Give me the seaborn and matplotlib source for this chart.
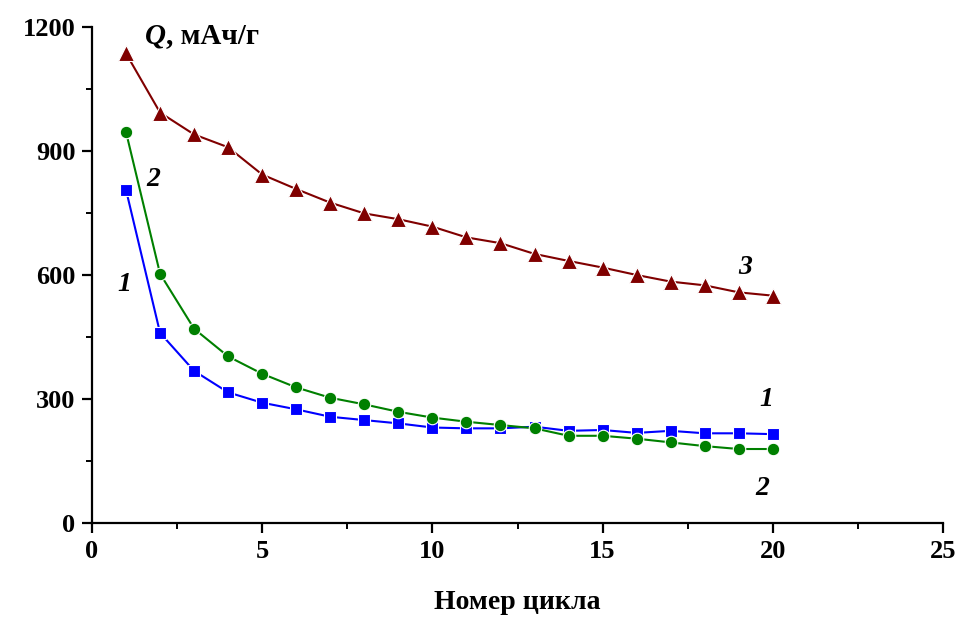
import matplotlib
matplotlib.use("Agg")
import matplotlib.pyplot as plt
import seaborn as sns
import pandas as pd
from matplotlib.ticker import MultipleLocator

cycles = list(range(1, 21))
series1 = [806, 460, 368, 316, 291, 275, 257, 249, 241, 231, 229, 229, 233, 223, 225, 218, 223, 217, 217, 215]
series2 = [946, 603, 470, 403, 361, 328, 303, 287, 269, 255, 245, 237, 229, 211, 211, 204, 195, 186, 179, 179]
series3 = [1136, 993, 940, 909, 843, 808, 775, 749, 735, 717, 691, 677, 651, 634, 618, 600, 584, 575, 558, 550]
names = ["1", "2", "3"]
x_ticks = [0, 5, 10, 15, 20, 25]
y_ticks = [0, 300, 600, 900, 1200]

sns.set_style("white")
plt.rcParams['font.family'] = ['Liberation Serif', 'DejaVu Serif']
plt.rcParams['text.color'] = 'black'
plt.rcParams['xtick.color'] = 'black'
plt.rcParams['ytick.color'] = 'black'
plt.rcParams['axes.labelcolor'] = 'black'

fig = plt.figure(figsize=(9.62, 6.25), dpi=100)
ax = fig.add_axes([0.0956, 0.1632, 0.8847, 0.7936])

colors = ["#0000FF", "#008000", "#800000"]
markers = ["s", "o", "^"]
msizes = [8.5, 9, 11]
for vals, c, m, ms in zip([series1, series2, series3], colors, markers, msizes):
    df = pd.DataFrame({"cycle": cycles, "Q": vals})
    sns.lineplot(data=df, x="cycle", y="Q", ax=ax, color=c, marker=m,
                 markersize=ms, markeredgecolor="white", markeredgewidth=0.8,
                 linewidth=1.5, clip_on=False)

ax.set_xlim(0, 25)
ax.set_ylim(0, 1200)
ax.set_xticks(x_ticks)
ax.set_yticks(y_ticks)
ax.xaxis.set_minor_locator(MultipleLocator(2.5))
ax.yaxis.set_minor_locator(MultipleLocator(150))
for s in ["top", "right"]:
    ax.spines[s].set_visible(False)
for s in ["left", "bottom"]:
    ax.spines[s].set_linewidth(1.6)
    ax.spines[s].set_color("black")
ax.tick_params(which="major", direction="out", length=7, width=1.6, labelsize=19, pad=5,
               bottom=True, left=True, colors="black")
ax.tick_params(which="minor", direction="out", length=4, width=1.4, bottom=True, left=True,
               colors="black")
for lab in ax.get_xticklabels() + ax.get_yticklabels():
    lab.set_fontweight("bold")

ax.set_xlabel("Номер цикла", fontsize=20, fontweight="bold", labelpad=20, color="black")
ax.set_ylabel("")

qt = ax.text(1.55, 1160, "Q", fontsize=21, fontweight="bold", style="italic",
             va="baseline", ha="left", color="black")
ax.annotate(", мАч/г", xy=(1, 0), xycoords=qt, va="bottom", ha="left",
            fontsize=21, fontweight="bold", color="black")

lbl = dict(fontsize=20, fontweight="bold", style="italic", ha="center", va="center",
           color="black")
ax.text(0.95, 578, "1", **lbl)
ax.text(1.8, 832, "2", **lbl)
ax.text(19.2, 618, "3", **lbl)
ax.text(19.8, 300, "1", **lbl)
ax.text(19.7, 84, "2", **lbl)

fig.savefig("out.png", dpi=100, facecolor="white")
